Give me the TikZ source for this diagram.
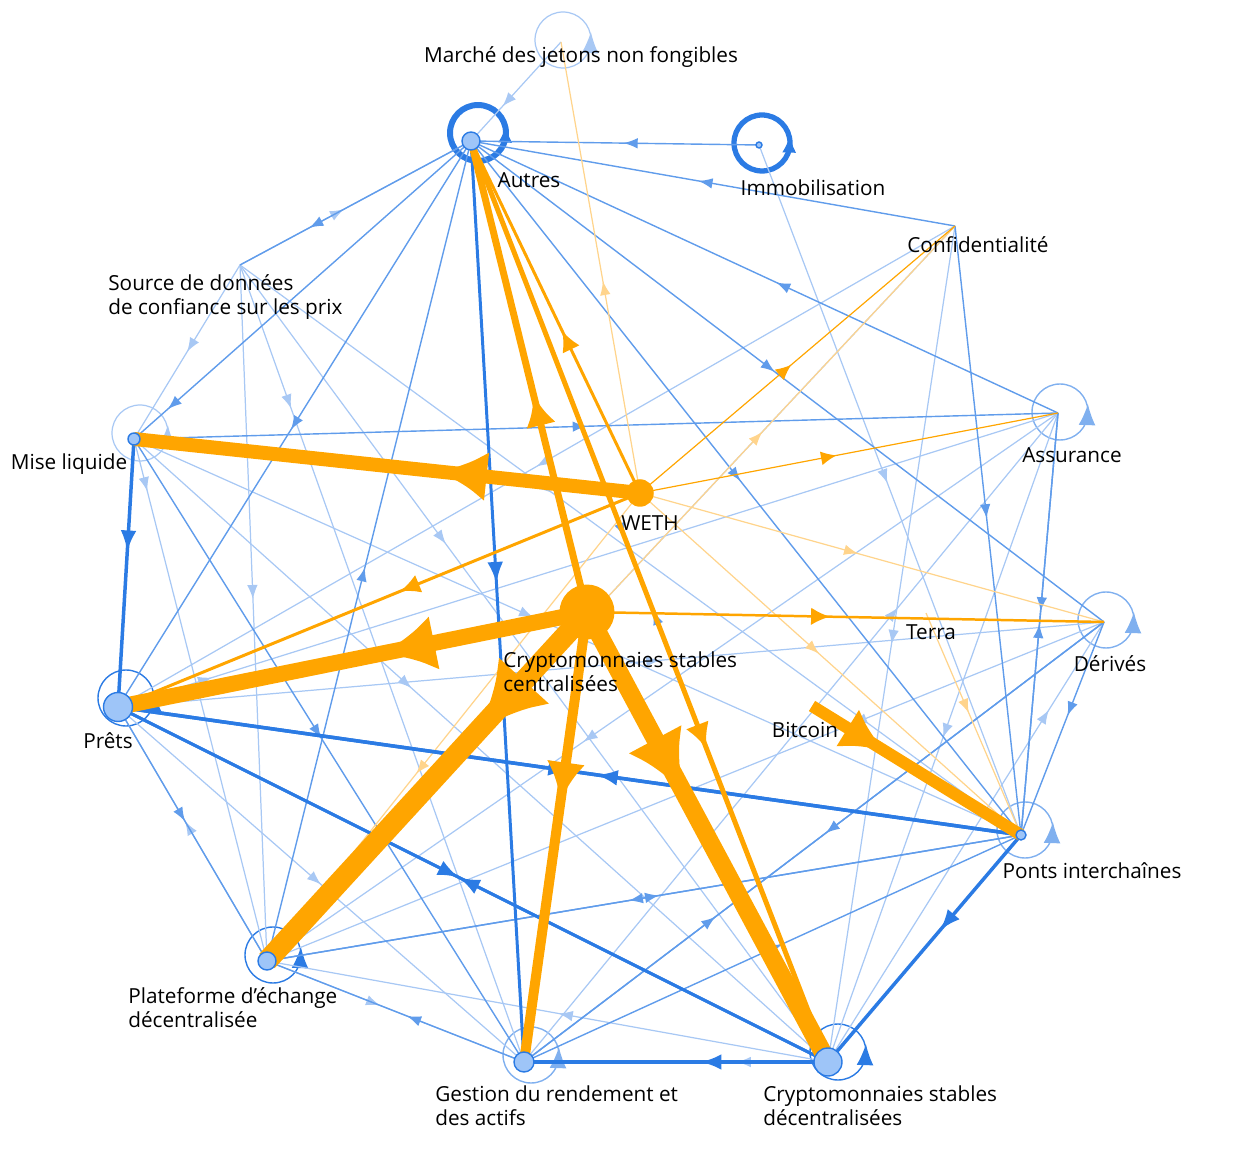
\documentclass[tikz,border=0pt]{standalone}
\usepackage{fontspec}
\setmainfont{Open Sans}
\usetikzlibrary{arrows.meta,decorations.markings}
\definecolor{bl}{HTML}{2B7BE4}
\definecolor{lbl}{HTML}{A8C8F4}
\definecolor{nf}{HTML}{9EC5F8}
\definecolor{og}{HTML}{FFA500}
\definecolor{log}{HTML}{FFD48C}
\def\al{8pt}\def\aw{6pt}
\tikzset{
 al/.store in=\al, aw/.store in=\aw,
 m/.style={postaction={decorate,decoration={markings,mark=at position #1 with {\arrow{Latex[length=\al,width=\aw]}}}}},
 lb/.style={lbl,line width=0.7pt,al=8pt,aw=6pt},
 mb/.style={bl!75,line width=0.8pt,al=8pt,aw=6pt},
 tb/.style={bl,line width=#1*0.567pt,al=12pt,aw=9pt},
 lo/.style={log,line width=0.7pt,al=8pt,aw=6pt},
 ob/.style={og,line width=#1*0.567pt,al={(#1*1.5pt+7pt)},aw={(#1*1.6pt+6pt)}},
 lab/.style={font=\fontsize{11.8}{13.8}\selectfont,inner sep=0pt,align=left},
 nd/.style={circle,draw=bl,fill=nf,line width=0.8pt,inner sep=0pt,minimum size=#1},
}
\newcommand\E[4]{\draw[#1,m=#4] (#2) -- (#3);}
% self loop: style, center, arrow length
\newcommand\SL[3]{\draw[#1] (#2) circle (0.56cm);\draw[#1,-{Latex[length=#3,width=#3*0.8]}] ([shift={(27.5,2)}]#2) -- ++(0.4,-10);}
\begin{document}
\begin{tikzpicture}[x=0.02cm,y=-0.02cm]
\useasboundingbox (0,0) rectangle (1248,1151);
\coordinate (NF) at (561,42);
\coordinate (AU) at (471,141);
\coordinate (IM) at (759,145);
\coordinate (CO) at (955,226);
\coordinate (SO) at (240,265);
\coordinate (ML) at (134,439);
\coordinate (AS) at (1058,413);
\coordinate (WE) at (640,493);
\coordinate (CSC) at (587,612);
\coordinate (TE) at (926,613);
\coordinate (DE) at (1104,622);
\coordinate (BT) at (812,706);
\coordinate (PR) at (118,707);
\coordinate (PO) at (1021,835);
\coordinate (PL) at (267,961);
\coordinate (GE) at (524,1062);
\coordinate (CSD) at (828,1062);
\coordinate (rNF) at (563,40);
\coordinate (rAU) at (478,133);
\coordinate (rIM) at (762,143);
\coordinate (rML) at (140,433);
\coordinate (rAS) at (1060,412);
\coordinate (rDE) at (1106,620);
\coordinate (rPO) at (1025,830);
\coordinate (rPR) at (126,698);
\coordinate (rPL) at (273,955);
\coordinate (rGE) at (531,1055);
\coordinate (rCSD) at (838,1052);
% self loops
\SL{lb}{rNF}{12pt}
\SL{bl,line width=3.4pt}{rAU}{10pt}
\SL{bl,line width=3pt}{rIM}{10pt}
\SL{lb}{rML}{12pt}
\SL{mb,bl!60}{rAS}{12pt}
\SL{mb,bl!60}{rDE}{12pt}
\SL{mb,bl!60}{rPO}{12pt}
\SL{mb,bl}{rPR}{12pt}
\SL{mb,bl}{rPL}{12pt}
\SL{mb,bl!60}{rGE}{12pt}
\SL{mb,bl}{rCSD}{12pt}
% light blue edges
\E{lb}{SO}{AU}{.45}
\E{lb}{SO}{ML}{.5}
\E{lb}{SO}{PL}{.48}
\E{lb}{SO}{GE}{.18}
\E{lb}{SO}{CSD}{.35}
\E{lb}{SO}{PO}{.4}
\E{lb}{ML}{PL}{.1}
\E{lb}{ML}{CSD}{.4}
\E{lb}{ML}{PO}{.45}
\E{lb}{PR}{GE}{.5}
\E{lb}{PR}{DE}{.55}
\E{lb}{PR}{AS}{.1}
\E{lb}{PL}{PR}{.55}
\E{lb}{CO}{PL}{.6}
\E{lb}{CO}{PR}{.5}
\E{lb}{CO}{CSD}{.5}
\E{lb}{AS}{CSD}{.5}
\E{lb}{AS}{PL}{.6}
\E{lb}{IM}{PO}{.49}
\E{lb}{NF}{AU}{.65}
\E{lb}{CSD}{PL}{.48}
\E{lb}{CSD}{GE}{.3}
\E{lb}{DE}{PL}{.3}
\E{lb}{GE}{AS}{.7}
\E{lb}{PL}{GE}{.44}
\E{lb}{CSD}{DE}{.8}
% medium blue edges
\E{mb}{IM}{AU}{.47}
\E{mb}{AU}{SO}{.7}
\E{mb}{AU}{PR}{.51}
\E{mb}{AU}{ML}{.9}
\E{mb}{AU}{DE}{.48}
\E{mb}{AU}{CSD}{.43}
\E{mb}{CSD}{AU}{.49}
\E{mb}{AU}{PO}{.49}
\E{mb}{CO}{AU}{.53}
\E{mb}{AS}{AU}{.48}
\E{mb}{ML}{AS}{.49}
\E{mb}{PL}{AU}{.48}
\E{mb}{ML}{GE}{.48}
\E{mb}{CO}{PO}{.48}
\E{mb}{AS}{PO}{.47}
\E{mb}{PO}{AS}{.5}
\E{mb}{DE}{PO}{.44}
\E{mb}{PO}{PL}{.52}
\E{mb}{PL}{PO}{.52}
\E{mb}{DE}{GE}{.48}
\E{mb}{GE}{DE}{.33}
\E{mb}{GE}{PO}{.52}
\E{mb}{PR}{PL}{.45}
\E{mb}{GE}{PL}{.455}
% light orange edges
\E{lo}{WE}{NF}{.47}
\E{lo}{WE}{DE}{.47}
\E{lo}{WE}{PO}{.47}
\E{lo}{TE}{PO}{.45}
\E{lo}{PL}{CO}{.72}
\E{lo}{WE}{PL}{.6}
% thick blue
\E{tb=3.5}{ML}{PR}{.42}
\E{tb=3.5}{PR}{PO}{.5}
\E{tb=3.5}{PO}{PR}{.47}
\E{tb=3}{PR}{CSD}{.48}
\E{tb=3}{CSD}{PR}{.52}
\E{tb=4}{CSD}{GE}{.42}
\E{tb=3.5}{PO}{CSD}{.42}
\E{tb=3}{AU}{GE}{.48}
% orange
\E{ob=1.2}{WE}{CO}{.48}
\E{ob=1.2}{WE}{AS}{.47}
\E{ob=2.5}{CSC}{DE}{.47}
\E{ob=3}{WE}{PR}{.46}
\E{ob=3}{WE}{AU}{.46}
\E{ob=5}{AU}{CSD}{.66}
\E{ob=7}{CSC}{AU}{.46}
\E{ob=10}{CSC}{GE}{.42}
\E{ob=12}{BT}{PO}{.35}
\E{ob=14}{WE}{ML}{.4}
\E{ob=16}{CSC}{PR}{.44}
\E{ob=18}{CSC}{CSD}{.4}
\E{ob=21}{CSC}{PL}{.34}
% nodes
\node[circle,fill=og,minimum size=1.1cm,inner sep=0pt] (nCSC) at (CSC) {};
\node[circle,fill=og,minimum size=0.55cm,inner sep=0pt] (nWE) at (WE) {};
\node[nd=0.36cm] (nAU) at (AU) {};
\node[nd=0.12cm] (nIM) at (IM) {};
\node[nd=0.24cm] (nML) at (ML) {};
\node[nd=0.58cm] (nPR) at (PR) {};
\node[nd=0.36cm] (nPL) at (PL) {};
\node[nd=0.4cm] (nGE) at (GE) {};
\node[nd=0.56cm] (nCSD) at (CSD) {};
\node[nd=0.2cm] (nPO) at (PO) {};
% labels
\node[lab] (tNF) at (581,57) {Marché des jetons non fongibles};
\node[lab] (tAU) at (529,180) {Autres};
\node[lab] (tIM) at (813,188) {Immobilisation};
\node[lab] (tCO) at (978,245) {Confidentialité};
\node[lab,anchor=west] (tSO) at (108,297) {Source de données\\de confiance sur les prix};
\node[lab] (tML) at (69,464) {Mise liquide};
\node[lab] (tAS) at (1072,455) {Assurance};
\node[lab] (tWE) at (650,523) {WETH};
\node[lab,anchor=west] (tCSC) at (503,672) {Cryptomonnaies stables\\centralisées};
\node[lab] (tTE) at (931,632) {Terra};
\node[lab] (tDE) at (1110,664) {Dérivés};
\node[lab] (tBT) at (805,730) {Bitcoin};
\node[lab] (tPR) at (108,741) {Prêts};
\node[lab] (tPO) at (1092,871) {Ponts interchaînes};
\node[lab,anchor=west] (tPL) at (128,1008) {Plateforme d’échange\\décentralisée};
\node[lab,anchor=west] (tGE) at (435,1106) {Gestion du rendement et\\des actifs};
\node[lab,anchor=west] (tCSD) at (763,1106) {Cryptomonnaies stables\\décentralisées};
\end{tikzpicture}
\end{document}
